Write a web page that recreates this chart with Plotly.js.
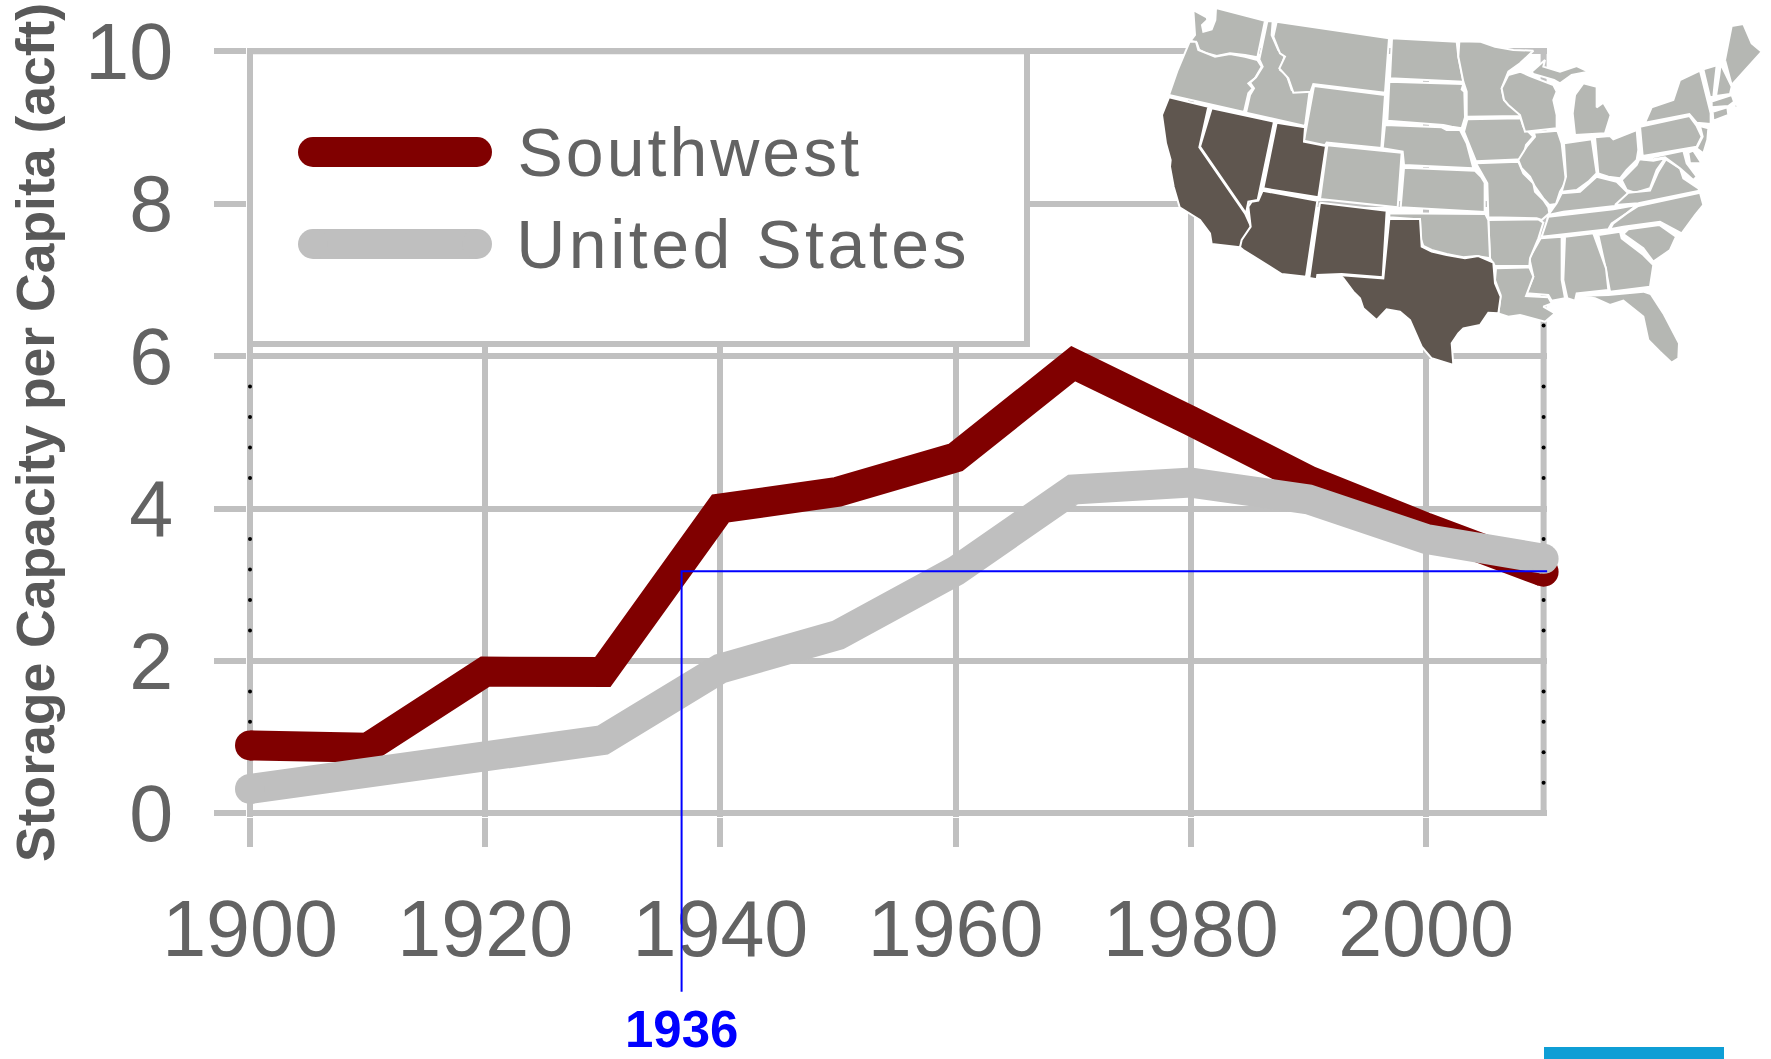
<!DOCTYPE html>
<html><head><meta charset="utf-8">
<script src="https://cdn.plot.ly/plotly-3.0.1.min.js"></script>
<style>
html,body{margin:0;padding:0;background:#fff}
.annotation[data-index="0"] text{letter-spacing:3px}
.annotation[data-index="1"] text{letter-spacing:3.5px}
</style></head><body><div id="chart" style="width:1771px;height:1059px"></div>
<script>
const years=[1900,1910,1920,1930,1940,1950,1960,1970,1980,1990,2000,2010];
const southwest=[0.89,0.86,1.86,1.855,4.0,4.22,4.67,5.9,5.15,4.37,3.75,3.17];
const unitedStates=[0.32,0.515,0.795,0.96,1.9,2.34,3.18,4.25,4.34,4.12,3.6,3.34];
const xTicks=[1900,1920,1940,1960,1980,2000];
const yTicks=[0,2,4,6,8,10];
const dotsLeftY=[0.4,0.8,1.2,1.6,2.4,2.8,3.2,3.6,4.4,4.8,5.2,5.6];
const dotsRightY=[0.4,0.8,1.2,1.6,2.4,2.8,3.2,3.6,4.4,4.8,5.2,5.6,6.4];
const marker1936X=[1936.7,1936.7,2010.3];
const marker1936Y=[-2.341,3.176,3.176];

const swStates={
CA:[[-33,292],[85,320],[58,442],[195,640],[213,680],[180,742],[95,732],[90,700],[60,660],[20,635],[-1,622],[-19,560],[-30,500],[-28,480],[-42,430],[-54,345]],
NV:[[95,325],[282,365],[240,567],[233,600],[205,605],[198,640],[60,440]],
UT:[[290,368],[375,382],[372,425],[438,438],[415,592],[250,565]],
AZ:[[248,572],[412,602],[378,830],[305,822],[190,750],[180,742],[185,720],[212,680],[205,620],[215,605],[235,602]],
NM:[[420,608],[620,632],[608,832],[485,822],[412,825],[410,838],[388,834]],
TX:[[628,657],[720,657],[725,740],[755,755],[800,765],[855,775],[895,768],[940,788],[945,850],[962,890],[955,940],[925,938],[900,975],[850,985],[835,1000],[815,1030],[820,1095],[755,1075],[725,1040],[690,960],[660,935],[620,928],[590,960],[550,925],[540,895],[520,875],[490,835],[475,825],[610,835]]
};
const otherStates={
WA:[[40,30],[80,52],[82,60],[66,75],[70,95],[95,88],[106,60],[108,24],[255,62],[232,172],[195,165],[150,160],[110,168],[80,160],[58,150],[50,128],[32,122],[45,105]],
OR:[[29,125],[48,125],[55,150],[105,170],[150,162],[195,170],[232,180],[245,200],[225,235],[205,250],[218,265],[205,280],[192,336],[-33,285],[-7,210],[11,170]],
ID:[[262,64],[278,64],[275,105],[295,150],[315,165],[300,210],[320,225],[335,270],[390,265],[375,378],[198,338],[210,285],[222,265],[210,248],[228,232],[248,200],[238,178]],
MT:[[290,65],[627,115],[615,278],[400,252],[392,275],[340,278],[325,235],[305,215],[298,205],[315,170],[300,160],[280,110]],
WY:[[402,258],[615,285],[604,444],[440,428],[435,436],[372,422]],
ND:[[636,115],[830,125],[835,170],[850,245],[630,235]],
SD:[[628,245],[850,252],[845,268],[853,275],[855,352],[845,385],[815,380],[790,375],[622,362]],
NE:[[615,375],[785,382],[800,390],[840,390],[860,430],[880,505],[672,495],[668,455],[608,445]],
CO:[[442,436],[665,458],[653,622],[420,597]],
KS:[[672,503],[885,512],[903,530],[914,548],[914,636],[662,622]],
MN:[[838,124],[900,125],[945,140],[1000,150],[1060,152],[1020,190],[985,215],[975,240],[965,265],[972,300],[1010,330],[1022,348],[860,350],[860,275],[850,245],[835,170]],
IA:[[862,358],[1022,355],[1030,380],[1060,410],[1038,435],[1028,478],[888,484],[870,440],[852,395]],
MO:[[888,490],[1015,485],[1030,520],[1060,550],[1065,575],[1090,600],[1105,622],[1108,640],[1085,660],[1070,655],[925,652],[922,550],[905,520]],
WI:[[1050,228],[1120,255],[1130,275],[1120,300],[1130,345],[1130,385],[1035,395],[1020,345],[985,315],[972,300],[965,265],[985,225],[1020,215]],
IL:[[1062,398],[1132,392],[1145,430],[1155,520],[1158,545],[1140,575],[1128,612],[1108,615],[1090,595],[1065,560],[1050,530],[1025,505],[1015,480],[1040,440],[1065,410]],
MIL:[[1185,285],[1210,250],[1250,260],[1250,322],[1270,308],[1292,345],[1275,400],[1185,405],[1178,340]],
MIU:[[1055,215],[1095,180],[1090,200],[1140,215],[1190,198],[1225,215],[1175,225],[1140,250],[1122,240],[1060,222]],
IN:[[1152,430],[1235,418],[1250,520],[1225,545],[1190,570],[1145,575],[1158,530]],
OH:[[1245,412],[1290,408],[1300,418],[1370,390],[1375,450],[1370,480],[1340,510],[1320,535],[1285,530],[1255,520]],
KY:[[1145,580],[1200,575],[1250,530],[1310,545],[1345,580],[1305,618],[1150,635],[1105,645],[1130,610]],
TN:[[1105,650],[1150,645],[1300,628],[1370,615],[1340,640],[1295,670],[1285,688],[1085,710],[1100,665]],
WV:[[1325,540],[1370,495],[1378,478],[1420,482],[1455,475],[1430,510],[1410,565],[1365,578],[1340,570]],
VA:[[1305,615],[1345,578],[1410,572],[1435,515],[1458,478],[1500,505],[1510,535],[1555,565],[1558,572],[1375,610]],
NC:[[1375,618],[1560,578],[1570,615],[1545,645],[1505,700],[1440,665],[1330,680],[1290,688],[1300,670],[1340,640]],
SC:[[1330,702],[1345,688],[1438,675],[1488,710],[1470,750],[1420,785],[1390,745]],
GA:[[1255,705],[1320,695],[1325,715],[1390,765],[1420,795],[1410,860],[1290,875],[1278,810]],
AL:[[1155,710],[1240,700],[1278,805],[1285,870],[1190,880],[1185,902],[1162,895],[1150,840]],
MS:[[1082,715],[1145,710],[1145,840],[1155,895],[1115,902],[1105,885],[1040,880],[1060,830],[1048,775]],
LA:[[948,805],[1048,802],[1060,830],[1038,888],[1105,892],[1115,910],[1090,920],[1125,940],[1095,965],[1060,955],[1020,945],[985,950],[955,940],[962,885],[945,840]],
AR:[[925,660],[1075,658],[1090,668],[1075,715],[1050,775],[1048,798],[945,798],[930,775]],
OK:[[628,640],[916,642],[925,660],[930,775],[890,768],[850,772],[800,762],[755,750],[730,738],[722,715],[720,658],[628,652]],
FL:[[1190,888],[1285,885],[1390,875],[1412,882],[1450,940],[1497,1030],[1495,1075],[1475,1088],[1440,1055],[1405,1020],[1390,950],[1330,902],[1290,915],[1245,895]],
PA:[[1380,380],[1528,348],[1550,378],[1565,410],[1550,440],[1388,468]],
NY:[[1395,368],[1415,322],[1480,300],[1500,240],[1560,212],[1592,340],[1592,372],[1550,368],[1528,342]],
NJ:[[1560,378],[1585,385],[1582,420],[1570,460],[1550,445],[1568,410]],
MD:[[1388,478],[1510,452],[1520,490],[1550,530],[1540,540],[1500,505],[1455,472],[1420,478]],
DE:[[1525,458],[1540,452],[1565,490],[1530,490]],
VT:[[1570,208],[1610,196],[1605,240],[1600,290],[1590,292]],
NH:[[1622,192],[1655,260],[1650,282],[1608,288],[1618,225]],
ME:[[1635,180],[1655,78],[1690,72],[1715,130],[1745,155],[1695,210],[1655,255]],
MA:[[1595,305],[1655,285],[1662,305],[1645,318],[1595,322]],
CTRI:[[1598,335],[1642,322],[1645,345],[1600,362]],
CAPE:[[1662,310],[1675,318],[1665,325]]
};

const W=1771,H=1059,FONT='"Liberation Sans",Arial,sans-serif';
const GRID='#c0c0c0',TXT='#636363',RED='#800000',GREY='#bfbfbf';
const X0=250,PXY=11.76,Y0=813.3,PYU=76.2,PAD=3.5,LW=6;
const pageX=v=>X0+(v-1900)*PXY, pageY=v=>Y0-v*PYU;
const capSizes=n=>years.map((_,i)=>(i===0||i===n-1)?30:0);
function statePoly(name,pts,color){
  const c=pts.concat([pts[0]]);
  return {x:c.map(p=>p[0]),y:c.map(p=>p[1]),xaxis:'x2',yaxis:'y2',mode:'lines',fill:'toself',fillcolor:color,
    line:{color:'#ffffff',width:2},name:name,hoverinfo:'skip',showlegend:false};
}
const cap=c=>({color:c,size:capSizes(12),opacity:1,line:{width:0}});
function swatch(y,c){
  return {x:[313,477],y:[y,y],xaxis:'x3',yaxis:'y3',mode:'lines+markers',line:{color:c,width:30},
    marker:{color:c,size:30,opacity:1,line:{width:0}},hoverinfo:'skip',showlegend:false,cliponaxis:false};
}
const traces=[
 {x:dotsLeftY.map(()=>1900),y:dotsLeftY,mode:'markers',marker:{color:'#000',size:4},showlegend:false,hoverinfo:'skip',cliponaxis:false},
 {x:dotsRightY.map(()=>2010),y:dotsRightY,mode:'markers',marker:{color:'#000',size:4},showlegend:false,hoverinfo:'skip',cliponaxis:false},
 {x:years,y:southwest,name:'Southwest',mode:'lines+markers',line:{color:RED,width:30},marker:cap(RED),cliponaxis:false,showlegend:false},
 {x:years,y:unitedStates,name:'United States',mode:'lines+markers',line:{color:GREY,width:30},marker:cap(GREY),cliponaxis:false,showlegend:false},
 swatch(152,RED),swatch(244,GREY),
 {x:marker1936X.map(pageX),y:marker1936Y.map(pageY),xaxis:'x3',yaxis:'y3',mode:'lines',line:{color:'#0000ff',width:2},cliponaxis:false,showlegend:false,hoverinfo:'skip'}
];
for(const k in otherStates)traces.push(statePoly(k,otherStates[k],'#b5b7b3'));
for(const k in swStates)traces.push(statePoly(k,swStates[k],'#5f564f'));

const layout={
 width:W,height:H,margin:{l:0,r:0,t:0,b:0,pad:0},paper_bgcolor:'#fff',plot_bgcolor:'rgba(0,0,0,0)',showlegend:false,
 xaxis:{domain:[(X0-PAD)/W,(X0+110*PXY+PAD)/W],range:[1900-PAD/PXY,2010+PAD/PXY],tickmode:'array',tickvals:xTicks,ticktext:xTicks.map(String),
   showgrid:true,gridcolor:GRID,gridwidth:LW,zeroline:false,showline:false,ticks:'outside',ticklen:29.5,tickwidth:LW,tickcolor:GRID,
   ticklabelstandoff:14,tickfont:{family:FONT,size:79,color:TXT},anchor:'y'},
 yaxis:{domain:[1-(Y0+PAD)/H,1-(Y0-10*PYU-PAD)/H],range:[-PAD/PYU,10+PAD/PYU],tickmode:'array',tickvals:yTicks,ticktext:yTicks.map(String),
   showgrid:true,gridcolor:GRID,gridwidth:LW,zeroline:false,showline:false,ticks:'outside',ticklen:31.5,tickwidth:LW,tickcolor:GRID,
   ticklabelstandoff:25,tickfont:{family:FONT,size:79,color:TXT},anchor:'x'},
 xaxis2:{domain:[0,1],range:[-1180*3,(W-1180)*3],visible:false,anchor:'y2',fixedrange:true},
 yaxis2:{domain:[0,1],range:[H*3,0],visible:false,anchor:'x2',fixedrange:true},
 xaxis3:{domain:[0,1],range:[0,W],visible:false,anchor:'y3',fixedrange:true},
 yaxis3:{domain:[0,1],range:[H,0],visible:false,anchor:'x3',fixedrange:true},
 shapes:[
  {type:'line',xref:'x',yref:'y',x0:2010,x1:2010,y0:0,y1:10,layer:'between',line:{color:GRID,width:LW}},
  {type:'rect',xref:'x',yref:'y',x0:1900,x1:1966.07,y0:6.159,y1:10,layer:'between',fillcolor:'#fff',line:{color:GRID,width:LW}},
  {type:'rect',xref:'x3',yref:'y3',x0:1544,x1:1724,y0:1047,y1:1059,fillcolor:'#0f9ed5',line:{width:0}}
 ],
 annotations:[
  {xref:'x3',yref:'y3',x:529.4,y:152,text:'Southwest',showarrow:false,xanchor:'left',yanchor:'middle',font:{family:FONT,size:68,color:TXT}},
  {xref:'x3',yref:'y3',x:537,y:244,text:'United States',showarrow:false,xanchor:'left',yanchor:'middle',font:{family:FONT,size:68,color:TXT}},
  {xref:'x3',yref:'y3',x:681,y:1029,text:'<b>1936</b>',showarrow:false,xanchor:'center',yanchor:'middle',font:{family:FONT,size:51,color:'#0000ff'}},
  {xref:'x3',yref:'y3',x:35,y:433,text:'<b>Storage Capacity per Capita (acft)</b>',textangle:-90,showarrow:false,xanchor:'center',yanchor:'middle',font:{family:FONT,size:53.5,color:'#595959'}}
 ]
};
Plotly.newPlot('chart',traces,layout,{staticPlot:true,displayModeBar:false});
</script></body></html>
